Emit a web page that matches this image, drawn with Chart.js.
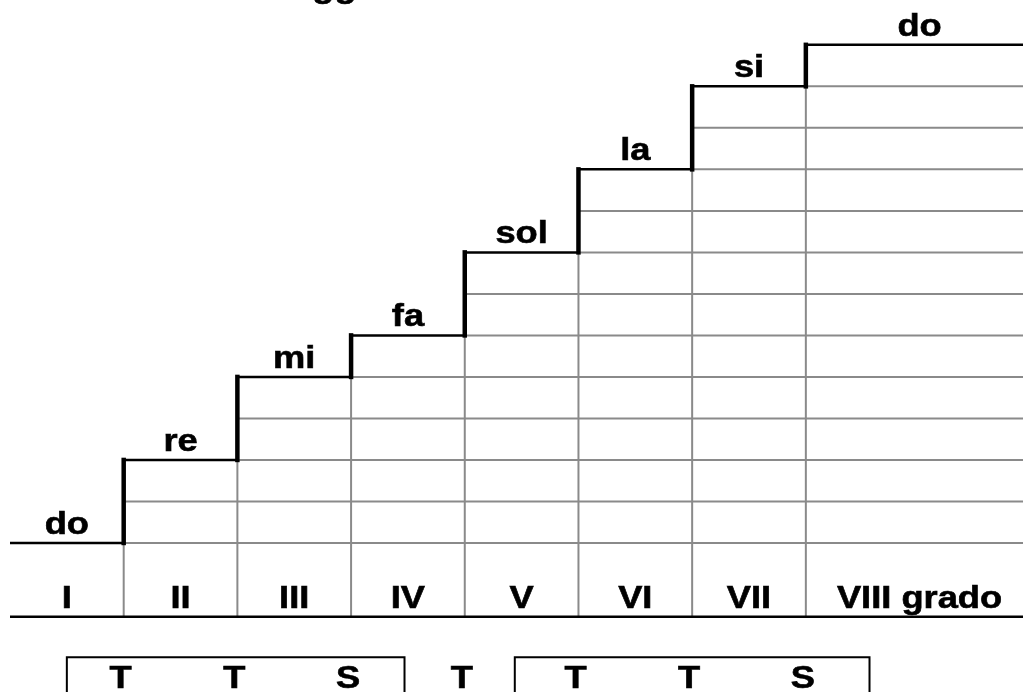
<!DOCTYPE html>
<html>
<head>
<meta charset="utf-8">
<script src="https://cdn.jsdelivr.net/npm/chart.js@4/dist/chart.umd.min.js"></script>
<style>
  body { margin: 0; background: #fff; }
  #wrap { width: 1023px; height: 692px; position: relative; }
</style>
</head>
<body>
<div id="wrap"><canvas id="scala"></canvas></div>
<script>
const degrees = ["I", "II", "III", "IV", "V", "VI", "VII", "VIII grado"];
const notes = ["do", "re", "mi", "fa", "sol", "la", "si", "do"];
const semitones = [0, 2, 4, 5, 7, 9, 11, 12];
const intervals = ["T", "T", "S", "T", "T", "T", "S"];
// interval indexes framed together in a box (tetracordi)
const tetrachords = [[0, 2], [4, 6]];

// scale limits
const X_MAX = 8.91;
const Y_MIN = -3.59, Y_MAX = 13.08;
const FLOOR = -1.78;     // bottom line under the degrees
const BOX_TOP = -2.75;
const BOX_PAD = [[0.5, 0.47], [0.56, 0.56]];

const GRAY = "#8a8a8a";
const datasets = [];

function seg(points, color, width, order) {
    datasets.push({
        data: points,
        borderColor: color,
        borderWidth: width,
        pointRadius: 0,
        fill: false,
        tension: 0,
        order: order
    });
}

// gray grid under the steps
for (let k = 0; k < 12; k++) {
    const start = semitones.findIndex(s => s > k);
    seg([{ x: start, y: k }, { x: X_MAX, y: k }], GRAY, 2, 3);
}
for (let i = 1; i < semitones.length; i++) {
    seg([{ x: i, y: FLOOR }, { x: i, y: semitones[i - 1] }], GRAY, 2, 3);
}

// baseline
seg([{ x: 0, y: FLOOR }, { x: X_MAX, y: FLOOR }], "#000", 2.5, 1);

// boxes around T T S
tetrachords.forEach(([a, b], j) => {
    const l = a + 1 - BOX_PAD[j][0], r = b + 1 + BOX_PAD[j][1];
    seg([{ x: l, y: Y_MIN - 1 }, { x: l, y: BOX_TOP }, { x: r, y: BOX_TOP }, { x: r, y: Y_MIN - 1 }], "#000", 2, 1);
});

// staircase
const stairs = [];
semitones.forEach((s, i) => {
    stairs.push({ x: i, y: s });
    stairs.push({ x: i < semitones.length - 1 ? i + 1 : X_MAX, y: s });
});
datasets.push({
    data: stairs,
    borderColor: "#000",
    borderWidth: 2.5,
    borderCapStyle: "square",
    pointRadius: 0,
    fill: false,
    order: 0,
    segment: {
        borderWidth: c => c.p0.parsed.x === c.p1.parsed.x ? 4.5 : 2.5
    }
});

const FONT = "bold 31px 'Liberation Sans', Arial, sans-serif";

function txt(ctx, s, x, y, align) {
    ctx.save();
    ctx.translate(x, y);
    ctx.scale(1.17, 1);
    ctx.textAlign = align || "center";
    ctx.fillText(s, 0, 0);
    ctx.strokeText(s, 0, 0);
    ctx.restore();
}

const labelsPlugin = {
    id: "labels",
    afterDatasetsDraw(chart) {
        const ctx = chart.ctx;
        const xs = chart.scales.x, ys = chart.scales.y;
        ctx.save();
        ctx.font = FONT;
        ctx.fillStyle = "#000";
        ctx.strokeStyle = "#000";
        ctx.lineWidth = 0.6;
        ctx.textBaseline = "alphabetic";
        const colX = i => xs.getPixelForValue(i < notes.length - 1 ? i + 0.5 : 8.0);
        notes.forEach((n, i) => txt(ctx, n, colX(i), ys.getPixelForValue(semitones[i]) - 9));
        degrees.forEach((d, i) => txt(ctx, d, colX(i), ys.getPixelForValue(FLOOR) - 9));
        intervals.forEach((t, i) => txt(ctx, t, xs.getPixelForValue(i + 1) - 3, ys.getPixelForValue(FLOOR) + 71));
        // title, mostly cut off by the top edge
        txt(ctx, "Scala maggiore", 155, -3.5, "left");
        ctx.restore();
    }
};

new Chart(document.getElementById("scala"), {
    type: "line",
    data: { datasets: datasets },
    options: {
        responsive: true,
        maintainAspectRatio: false,
        animation: false,
        layout: { padding: { left: 10, right: 0, top: 0, bottom: 0 } },
        scales: {
            x: { type: "linear", min: 0, max: X_MAX, display: false },
            y: { type: "linear", min: Y_MIN, max: Y_MAX, display: false }
        },
        plugins: {
            legend: { display: false },
            tooltip: { enabled: false }
        }
    },
    plugins: [labelsPlugin]
});
</script>
</body>
</html>
